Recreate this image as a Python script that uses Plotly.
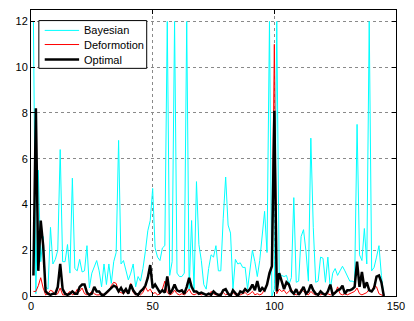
import plotly.graph_objects as go

# Per-frame error of three estimators, frames 1..145 (values capped at 12)
frames = list(range(1, 146))

bayesian = [
    12, 0.1, 5.5, 1.5, 2.6, 0.4, 0.3, 3.0, 1.4, 1.6,
    2.0, 6.4, 1.5, 1.5, 2.25, 1.0, 5.15, 1.2, 1.1, 1.6,
    1.05, 1.1, 2.2, 0.35, 1.0, 1.3, 1.55, 1.1, 0.4, 1.4,
    0.5, 1.4, 0.55, 1.5, 1.9, 6.8, 1.4, 1.55, 1.1, 0.7,
    1.0, 1.4, 0.4, 0.85, 0.65, 1.2, 1.95, 2.85, 3.3, 4.7,
    2.1, 1.7, 1.55, 2.1, 2.2, 12, 0.9, 1.5, 12, 1.0,
    0.85, 0.85, 1.0, 12, 0.3, 3.3, 0.3, 5.0, 2.25, 1.55,
    0.5, 0.3, 1.2, 1.8, 1.7, 2.2, 1.1, 1.1, 3.4, 5.2,
    3.1, 2.75, 0.3, 1.6, 1.4, 1.45, 1.25, 1.25, 0.3, 1.25,
    2.0, 1.5, 0.85, 1.55, 2.7, 3.7, 1.9, 12, 0.0, 0.3,
    12, 1.0, 0.9, 0.85, 0.9, 0.5, 0.8, 4.3, 0.6, 0.65,
    2.6, 2.9, 1.95, 0.65, 6.9, 3.0, 0.6, 0.65, 1.7, 1.65,
    0.6, 1.7, 0.3, 1.0, 1.2, 0.9, 1.1, 1.3, 1.1, 0.85,
    0.65, 0.65, 0.6, 7.5, 1.8, 1.55, 2.95, 1.4, 12, 1.1,
    1.25, 1.7, 2.2, 0.9, 0.0,
]

deformotion = [
    0.2, 0.2, 0.45, 0.8, 0.35, 0.05, 0.1, 0.25, 0.2, 0.05,
    0.1, 0.35, 0.05, 0.05, 0.1, 0.2, 0.05, 0.1, 0.3, 0.2,
    0.35, 0.1, 0.05, 0.1, 0.2, 0.1, 0.05, 0.05, 0.1, 0.05,
    0.1, 0.2, 0.45, 0.6, 0.55, 0.2, 0.15, 0.1, 0.2, 0.1,
    0.55, 0.15, 0.05, 0.1, 0.05, 0.15, 0.4, 0.2, 0.3, 0.1,
    0.15, 0.05, 0.1, 0.3, 0.65, 0.15, 0.05, 0.1, 0.25, 0.1,
    0.05, 0.1, 0.05, 0.15, 0.3, 0.1, 0.05, 0.1, 0.1, 0.05,
    0.1, 0.05, 0.05, 0.2, 0.1, 0.05, 0.05, 0.1, 0.15, 0.05,
    0.1, 0.05, 0.15, 0.05, 0.1, 0.05, 0.1, 0.15, 0.05, 0.1,
    0.2, 0.05, 0.1, 0.05, 0.1, 0.3, 0.5, 0.9, 1.3, 11.0,
    0.1, 0.3, 0.2, 0.25, 0.1, 0.2, 0.3, 0.1, 0.05, 0.1,
    0.3, 0.2, 0.1, 0.05, 0.2, 0.1, 0.05, 0.1, 0.05, 0.1,
    0.05, 0.1, 0.05, 0.15, 0.1, 0.4, 0.1, 0.05, 0.1, 0.05,
    0.1, 0.15, 0.2, 0.35, 0.1, 0.05, 0.1, 0.15, 0.3, 0.2,
    0.45, 0.4, 0.1, 0.05, 0.0,
]

optimal = [
    0.9, 8.2, 1.1, 3.3, 2.2, 0.2, 0.1, 0.05, 0.1, 0.1,
    0.4, 1.4, 0.3, 0.1, 0.05, 0.1, 0.2, 0.1, 0.1, 0.4,
    0.5, 0.5, 0.15, 0.05, 0.1, 0.4, 0.2, 0.2, 0.05, 0.05,
    0.15, 0.25, 0.35, 0.45, 0.4, 0.2, 0.35, 0.15, 0.3, 0.1,
    0.5, 0.25, 0.1, 0.05, 0.2, 0.3, 0.45, 0.8, 1.35, 0.35,
    0.5, 0.35, 0.15, 0.25, 0.15, 0.85, 0.1, 0.25, 0.5, 0.25,
    0.2, 0.25, 0.1, 0.4, 0.8, 0.4, 0.2, 0.2, 0.1, 0.15,
    0.1, 0.05, 0.1, 0.05, 0.2, 0.1, 0.05, 0.05, 0.25, 0.3,
    0.1, 0.0, 0.25, 0.1, 0.0, 0.2, 0.15, 0.3, 0.2, 0.3,
    0.5, 0.25, 0.65, 0.2, 0.35, 0.25, 0.5, 1.0, 1.3, 8.1,
    0.2, 1.0, 0.6, 0.3, 0.6, 0.5, 0.2, 0.1, 0.3, 0.05,
    0.2, 0.4, 0.1, 0.2, 0.5, 0.25, 0.1, 0.05, 0.2, 0.1,
    0.05, 0.2, 0.5, 0.05, 0.15, 0.25, 0.3, 0.45, 0.1, 0.25,
    0.25, 0.3, 0.4, 1.5, 0.4, 1.05, 0.35, 0.6, 0.25, 0.2,
    0.35, 0.85, 0.9, 0.6, 0.0,
]

x_ticks = [0, 50, 100, 150]
y_ticks = [0, 2, 4, 6, 8, 10, 12]

FONT = "Liberation Sans, Arial, Helvetica, sans-serif"

series = [
    ("Bayesian", bayesian, "#00FFFF", 1),
    ("Deformotion", deformotion, "#FF0000", 1),
    ("Optimal", optimal, "#000000", 2.5),
]

fig = go.Figure()
for name, values, color, width in series:
    fig.add_trace(go.Scatter(x=frames, y=values, mode="lines", name=name,
                             showlegend=False,
                             line=dict(color=color, width=width)))

axis_common = dict(
    showline=True, linecolor="black", linewidth=1, mirror="ticks",
    ticks="inside", ticklen=4, tickcolor="black",
    showgrid=True, gridcolor="#8a8a8a", griddash="dot", gridwidth=1,
    zeroline=False, tickfont=dict(family=FONT, size=11, color="black"),
)

fig.update_xaxes(range=[0, 150], tickvals=x_ticks, **axis_common)
fig.update_yaxes(range=[0, 12.5], tickvals=y_ticks, **axis_common)

# Compact boxed legend in the upper-left corner of the axes (paper coords)
box_x0, box_x1 = 0.0215, 0.317
box_y1, box_y0 = 0.963, 0.796
row_y = [0.9286, 0.8793, 0.8265]
sample_x0, sample_x1, text_x = 0.0376, 0.1318, 0.1398

fig.add_shape(type="rect", xref="paper", yref="paper",
              x0=box_x0, x1=box_x1, y0=box_y0, y1=box_y1,
              line=dict(color="black", width=1), fillcolor="white", layer="above")
for (name, _, color, width), ry in zip(series, row_y):
    fig.add_shape(type="line", xref="paper", yref="paper",
                  x0=sample_x0, x1=sample_x1, y0=ry, y1=ry,
                  line=dict(color=color, width=width), layer="above")
    fig.add_annotation(text=name, xref="paper", yref="paper",
                       x=text_x, y=ry, xanchor="left", yanchor="middle",
                       showarrow=False,
                       font=dict(family=FONT, size=11, color="black"))

fig.update_layout(
    width=414, height=321,
    margin=dict(l=31, r=11, t=9, b=18),
    paper_bgcolor="white", plot_bgcolor="white",
    showlegend=False,
)

fig.write_html("out.html")
